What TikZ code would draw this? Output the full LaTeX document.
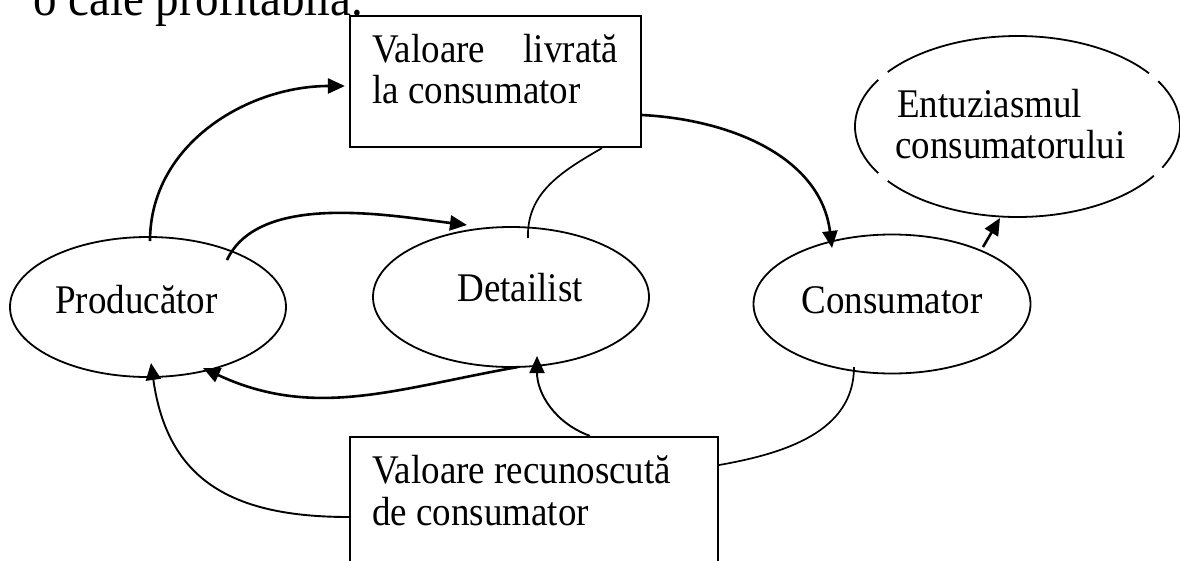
\documentclass[tikz,border=0pt]{standalone}
\usepackage{fontspec}
\setmainfont{Liberation Serif}
\usetikzlibrary{shapes.geometric,arrows.meta}

\tikzset{
  ell/.style={ellipse, draw, line width=1.8pt, inner sep=0pt},
  hollow/.style={ellipse, inner sep=0pt},
  box/.style={rectangle, draw, line width=2.2pt, inner sep=0pt},
  lbl/.style={font=\fontsize{37}{41.5}\selectfont, inner sep=0pt, yscale=1.1, transform shape},
  arr/.style={-{Triangle[length=17pt,width=15pt]}, line width=2.6pt},
  thinarr/.style={-{Triangle[length=17pt,width=15pt]}, line width=1.9pt},
  link/.style={line width=1.7pt},
}

\begin{document}
\begin{tikzpicture}[x=1pt,y=1pt]
\useasboundingbox (0,0) rectangle (1180,-560);
\clip (0,0) rectangle (1180,-560);

% closing words of the preceding sentence
\node[anchor=base west, inner sep=0pt, font=\fontsize{47}{50}\selectfont, yscale=1.1, transform shape] (lead) at (33,-15) {o cale profitabilă.};

% boxes
\node[box, minimum width=291, minimum height=131] (top) at (495.5,-81.5) {};
\node[lbl, anchor=base west] (top1) at (372,-62) {\makebox[246pt][s]{Valoare livrată}};
\node[lbl, anchor=base west] (top2) at (372,-103) {la consumator};

\node[box, minimum width=368, minimum height=153] (bot) at (534,-513.5) {};
\node[lbl, anchor=base west] (bot1) at (372,-483) {Valoare recunoscută};
\node[lbl, anchor=base west] (bot2) at (372,-525) {de consumator};

% ellipses
\node[ell, minimum width=276, minimum height=140] (prod) at (148,-307) {};
\node[lbl, anchor=base] (prodtxt) at (136.5,-313) {Producător};

\node[ell, minimum width=276, minimum height=140] (det) at (511,-297) {};
\node[lbl, anchor=base] (dettxt) at (520,-301) {Detailist};

\node[ell, minimum width=277, minimum height=139] (cons) at (892,-304) {};
\node[lbl, anchor=base] (constxt) at (892,-313) {Consumator};

% broken outline of the enthusiasm ellipse
\node[hollow, minimum width=325, minimum height=181] (ent) at (1017.5,-126.5) {};
\foreach \a/\b in {36/143, 149/211, 217/327, 333/390}
  \draw[line width=1.8pt] ([shift={(\a:162.5 and 90.5)}]ent.center)
    arc[start angle=\a, end angle=\b, x radius=162.5, y radius=90.5];
\node[lbl, anchor=base west] (ent1) at (897,-117) {Entuziasmul};
\node[lbl, anchor=base west] (ent2) at (895,-158) {consumatorului};

% connectors
\draw[arr] ([shift={(2,-5)}]prod.north) to[out=90,in=180] ([shift={(-4,-4.5)}]top.west);
\draw[arr] ([shift={(79,47)}]prod.center) to[out=65,in=173,looseness=0.8] ([shift={(-44,72)}]det.center);
\draw[arr] ([shift={(7,-70)}]det.center) to[out=190,in=-25] ([shift={(55,-61)}]prod.center);
\draw[thinarr] ([shift={(0,-3.5)}]bot.west) to[out=180,in=-82,looseness=1.2] ([shift={(3,-56)}]prod.center);
\draw[thinarr] ([shift={(56,0)}]bot.north) to[out=160,in=-90] ([shift={(26,-59)}]det.center);
\draw[arr] ([shift={(0,-33.5)}]top.east) to[out=-3,in=97] ([shift={(-60,56)}]cons.center);
\draw[link] ([shift={(17,59)}]det.center) to[out=92,in=-150] ([shift={(106.5,0)}]top.south);
\draw[link] ([shift={(-38,-63)}]cons.center) to[out=-90,in=10] ([shift={(0,48.5)}]bot.east);
\draw[arr] ([shift={(91,57)}]cons.center) -- ([shift={(-17.5,-91.5)}]ent.center);
\end{tikzpicture}
\end{document}
